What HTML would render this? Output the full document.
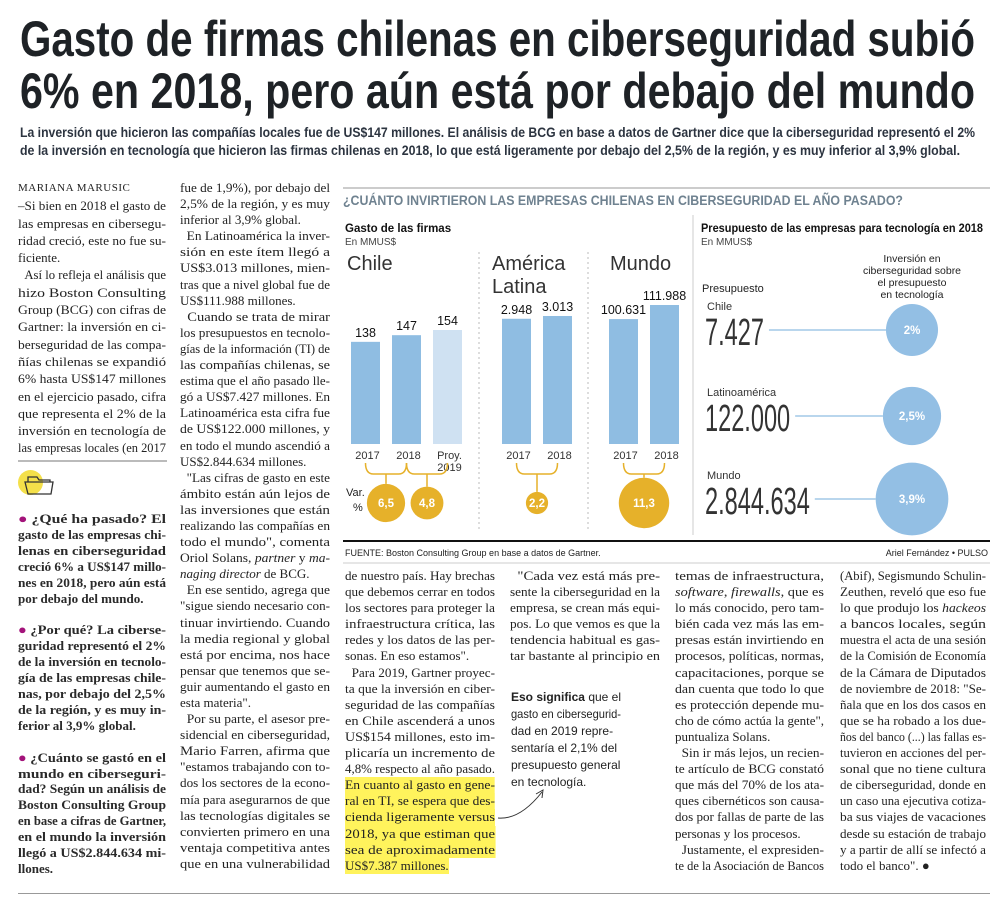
<!DOCTYPE html>
<html><head><meta charset="utf-8">
<style>
*{margin:0;padding:0;box-sizing:border-box}
body{width:1000px;height:915px;background:#fff;position:relative;overflow:hidden;font-family:"Liberation Serif",serif;color:#222}
.col{position:absolute;font-size:13px;line-height:16.1px}
.col i{display:block;width:max-content;white-space:nowrap;font-style:normal;transform-origin:0 50%}
.col em{font-style:italic}
.qa{font-weight:bold;color:#2a2a2a}
.dot{color:#a3137a}
.hl{background:#fff35c}
.box{font-family:"Liberation Sans",sans-serif;font-size:12px;line-height:17px}
svg text{font-family:"Liberation Sans",sans-serif}
</style></head><body>
<svg style="position:absolute;left:0;top:0" width="1000" height="170">
<text x="20" y="56" font-size="50" font-weight="bold" fill="#1e2226" textLength="955" lengthAdjust="spacingAndGlyphs">Gasto de firmas chilenas en ciberseguridad subió</text>
<text x="20" y="108" font-size="50" font-weight="bold" fill="#1e2226" textLength="955" lengthAdjust="spacingAndGlyphs">6% en 2018, pero aún está por debajo del mundo</text>
<text x="20" y="137" font-size="14" font-weight="bold" fill="#2c3440" textLength="955" lengthAdjust="spacingAndGlyphs">La inversión que hicieron las compañías locales fue de US$147 millones. El análisis de BCG en base a datos de Gartner dice que la ciberseguridad representó el 2%</text>
<text x="20" y="155" font-size="14" font-weight="bold" fill="#2c3440" textLength="940" lengthAdjust="spacingAndGlyphs">de la inversión en tecnología que hicieron las firmas chilenas en 2018, lo que está ligeramente por debajo del 2,5% de la región, y es muy inferior al 3,9% global.</text>
</svg>

<div class="col" data-w="148" style="left:18px;top:180px;line-height:17.3px">
<i style="font-size:11px;letter-spacing:.5px" class="e">MARIANA MARUSIC</i>
<i>–Si bien en 2018 el gasto de</i>
<i>las empresas en cibersegu-</i>
<i>ridad creció, este no fue su-</i>
<i class="e">ficiente.</i>
<i>&nbsp;&nbsp;Así lo refleja el análisis que</i>
<i>hizo Boston Consulting</i>
<i>Group (BCG) con cifras de</i>
<i>Gartner: la inversión en ci-</i>
<i>berseguridad de las compa-</i>
<i>ñías chilenas se expandió</i>
<i>6% hasta US$147 millones</i>
<i>en el ejercicio pasado, cifra</i>
<i>que representa el 2% de la</i>
<i>inversión en tecnología de</i>
<i>las empresas locales (en 2017</i>
</div>
<div style="position:absolute;left:18px;top:460px;width:149px;height:2px;background:#bbb"></div>
<div style="position:absolute;left:18px;top:470px;width:25px;height:25px;border-radius:50%;background:#f4e04a"></div>
<svg style="position:absolute;left:22px;top:472px" width="34" height="26"><path d="M3 10 L6 22 L29 22 L31 10 Z M6 10 L6 5 L15 5 L17 8 L28 8 L28 10" fill="none" stroke="#333" stroke-width="1.3"/></svg>

<div class="col qa" data-w="148" style="left:18px;top:511px;line-height:15.9px">
<i><span class="dot">●</span> ¿Qué ha pasado? El</i>
<i>gasto de las empresas chi-</i>
<i>lenas en ciberseguridad</i>
<i>creció 6% a US$147 millo-</i>
<i>nes en 2018, pero aún está</i>
<i class="e">por debajo del mundo.</i>
<i class="e">&nbsp;</i>
<i><span class="dot">●</span> ¿Por qué? La ciberse-</i>
<i>guridad representó el 2%</i>
<i>de la inversión en tecnolo-</i>
<i>gía de las empresas chile-</i>
<i>nas, por debajo del 2,5%</i>
<i>de la región, y es muy in-</i>
<i class="e">ferior al 3,9% global.</i>
<i class="e">&nbsp;</i>
<i><span class="dot">●</span> ¿Cuánto se gastó en el</i>
<i>mundo en ciberseguri-</i>
<i>dad? Según un análisis de</i>
<i>Boston Consulting Group</i>
<i>en base a cifras de Gartner,</i>
<i>en el mundo la inversión</i>
<i>llegó a US$2.844.634 mi-</i>
<i class="e">llones.</i>
</div>

<div class="col" data-w="150" style="left:180px;top:180px">
<i>fue de 1,9%), por debajo del</i>
<i>2,5% de la región, y es muy</i>
<i class="e">inferior al 3,9% global.</i>
<i>&nbsp;&nbsp;En Latinoamérica la inver-</i>
<i>sión en este ítem llegó a</i>
<i>US$3.013 millones, mien-</i>
<i>tras que a nivel global fue de</i>
<i class="e">US$111.988 millones.</i>
<i>&nbsp;&nbsp;Cuando se trata de mirar</i>
<i>los presupuestos en tecnolo-</i>
<i>gías de la información (TI) de</i>
<i>las compañías chilenas, se</i>
<i>estima que el año pasado lle-</i>
<i>gó a US$7.427 millones. En</i>
<i>Latinoamérica esta cifra fue</i>
<i>de US$122.000 millones, y</i>
<i>en todo el mundo ascendió a</i>
<i class="e">US$2.844.634 millones.</i>
<i>&nbsp;&nbsp;"Las cifras de gasto en este</i>
<i>ámbito están aún lejos de</i>
<i>las inversiones que están</i>
<i>realizando las compañías en</i>
<i>todo el mundo", comenta</i>
<i>Oriol Solans, <em>partner</em> y <em>ma-</em></i>
<i class="e"><em>naging director</em> de BCG.</i>
<i>&nbsp;&nbsp;En ese sentido, agrega que</i>
<i>"sigue siendo necesario con-</i>
<i>tinuar invirtiendo. Cuando</i>
<i>la media regional y global</i>
<i>está por encima, nos hace</i>
<i>pensar que tenemos que se-</i>
<i>guir aumentando el gasto en</i>
<i class="e">esta materia".</i>
<i>&nbsp;&nbsp;Por su parte, el asesor pre-</i>
<i>sidencial en ciberseguridad,</i>
<i>Mario Farren, afirma que</i>
<i>"estamos trabajando con to-</i>
<i>dos los sectores de la econo-</i>
<i>mía para asegurarnos de que</i>
<i>las tecnologías digitales se</i>
<i>convierten primero en una</i>
<i>ventaja competitiva antes</i>
<i>que en una vulnerabilidad</i>
</div>

<div class="col" data-w="150" style="left:345px;top:568px">
<i>de nuestro país. Hay brechas</i>
<i>que debemos cerrar en todos</i>
<i>los sectores para proteger la</i>
<i>infraestructura crítica, las</i>
<i>redes y los datos de las per-</i>
<i class="e">sonas. En eso estamos".</i>
<i>&nbsp;&nbsp;Para 2019, Gartner proyec-</i>
<i>ta que la inversión en ciber-</i>
<i>seguridad de las compañías</i>
<i>en Chile ascenderá a unos</i>
<i>US$154 millones, esto im-</i>
<i>plicaría un incremento de</i>
<i class="e">4,8% respecto al año pasado.</i>
<i class="hl">En cuanto al gasto en gene-</i>
<i class="hl">ral en TI, se espera que des-</i>
<i class="hl">cienda ligeramente versus</i>
<i class="hl">2018, ya que estiman que</i>
<i class="hl">sea de aproximadamente</i>
<i class="hl e">US$7.387 millones.</i>
</div>

<div class="col" data-w="150" style="left:510px;top:568px">
<i>&nbsp;&nbsp;"Cada vez está más pre-</i>
<i>sente la ciberseguridad en la</i>
<i>empresa, se crean más equi-</i>
<i>pos. Lo que vemos es que la</i>
<i>tendencia habitual es gas-</i>
<i>tar bastante al principio en</i>
</div>
<div class="col box" data-w="110" style="left:511px;top:689px">
<i class="e"><b>Eso significa</b> que el</i>
<i class="e">gasto en cibersegurid-</i>
<i class="e">dad en 2019 repre-</i>
<i class="e">sentaría el 2,1% del</i>
<i class="e">presupuesto general</i>
<i class="e">en tecnología.</i>
</div>
<svg style="position:absolute;left:490px;top:780px" width="70" height="50"><path d="M8 38 Q30 40 52 12" fill="none" stroke="#333" stroke-width="1"/><path d="M46 14 L53 10 L52 18" fill="none" stroke="#333" stroke-width="1"/></svg>

<div class="col" data-w="149" style="left:675px;top:568px">
<i>temas de infraestructura,</i>
<i><em>software</em>, <em>firewalls</em>, que es</i>
<i>lo más conocido, pero tam-</i>
<i>bién cada vez más las em-</i>
<i>presas están invirtiendo en</i>
<i>procesos, políticas, normas,</i>
<i>capacitaciones, porque se</i>
<i>dan cuenta que todo lo que</i>
<i>es protección depende mu-</i>
<i>cho de cómo actúa la gente",</i>
<i class="e">puntualiza Solans.</i>
<i>&nbsp;&nbsp;Sin ir más lejos, un recien-</i>
<i>te artículo de BCG constató</i>
<i>que más del 70% de los ata-</i>
<i>ques cibernéticos son causa-</i>
<i>dos por fallas de parte de las</i>
<i class="e">personas y los procesos.</i>
<i>&nbsp;&nbsp;Justamente, el expresiden-</i>
<i>te de la Asociación de Bancos</i>
</div>

<div class="col" data-w="146" style="left:840px;top:568px">
<i>(Abif), Segismundo Schulin-</i>
<i>Zeuthen, reveló que eso fue</i>
<i>lo que produjo los <em>hackeos</em></i>
<i>a bancos locales, según</i>
<i>muestra el acta de una sesión</i>
<i>de la Comisión de Economía</i>
<i>de la Cámara de Diputados</i>
<i>de noviembre de 2018: "Se-</i>
<i>ñala que en los dos casos en</i>
<i>que se ha robado a los due-</i>
<i>ños del banco (...) las fallas es-</i>
<i>tuvieron en acciones del per-</i>
<i>sonal que no tiene cultura</i>
<i>de ciberseguridad, donde en</i>
<i>un caso una ejecutiva cotiza-</i>
<i>ba sus viajes de vacaciones</i>
<i>desde su estación de trabajo</i>
<i>y a partir de allí se infectó a</i>
<i class="e">todo el banco". ●</i>
</div>
<div style="position:absolute;left:18px;top:893px;width:972px;height:1px;background:#999"></div>

<svg id="chart" style="position:absolute;left:0;top:0" width="1000" height="570"></svg>

<script>
// Gasto en ciberseguridad (MMUS$)
const chileYears = ['2017', '2018', 'Proy.|2019'];
const chileValues = [138, 147, 154];
const chileLabels = ['138', '147', '154'];
const alYears = ['2017', '2018'];
const alValues = [2948, 3013];
const alLabels = ['2.948', '3.013'];
const mundoYears = ['2017', '2018'];
const mundoValues = [100631, 111988];
const mundoLabels = ['100.631', '111.988'];
// Variación %
const chileVar = [6.5, 4.8];
const chileVarLabels = ['6,5', '4,8'];
const alVar = [2.2];
const alVarLabels = ['2,2'];
const mundoVar = [11.3];
const mundoVarLabels = ['11,3'];
// Presupuesto en tecnología 2018
const budgetRegions = ['Chile', 'Latinoamérica', 'Mundo'];
const budgetLabels = ['7.427', '122.000', '2.844.634'];
const budgetShare = [2, 2.5, 3.9];
const budgetShareLabels = ['2%', '2,5%', '3,9%'];

const NS = 'http://www.w3.org/2000/svg';
const svg = document.getElementById('chart');
function mk(tag, attrs, txt) {
  const e = document.createElementNS(NS, tag);
  for (const k in attrs) e.setAttribute(k, attrs[k]);
  if (txt !== undefined) e.textContent = txt;
  svg.appendChild(e);
  return e;
}
const BAR = '#8fbde2', BAR_L = '#cfe1f2', GOLD = '#e6b12a', CIRC = '#93bfe4';
const BASE = 444, BW = 29, STEP = 41, CY = 503;

let e;
e = mk('line', {x1: 343, y1: 188, x2: 990, y2: 188, stroke: '#999', 'stroke-width': 1});


e = mk('text', {x: 343, y: 205, 'font-size': 13.5, 'font-weight': 'bold', fill: '#6f8290', textLength: 560, lengthAdjust: 'spacingAndGlyphs'}, '¿CUÁNTO INVIRTIERON LAS EMPRESAS CHILENAS EN CIBERSEGURIDAD EL AÑO PASADO?');


e = mk('text', {x: 345, y: 232, 'font-size': 11.5, 'font-weight': 'bold', fill: '#111'}, 'Gasto de las firmas');


e = mk('text', {x: 345, y: 245, 'font-size': 10, fill: '#444'}, 'En MMUS$');


[479, 588].forEach(x => {
  e = mk('line', {x1: x, y1: 252, x2: x, y2: 530, stroke: '#bbb', 'stroke-dasharray': '2,3'});
  
  
});
e = mk('text', {x: 346, y: 496, 'font-size': 11, fill: '#222'}, 'Var.');


e = mk('text', {x: 353, y: 511, 'font-size': 11, fill: '#222'}, '%');



function panel(name, titles, tx, x0, years, values, labels, maxH, vars, varLabels) {
  titles.forEach((t, i) => {
    e = mk('text', {x: tx, y: 270 + i * 23, 'font-size': 20, fill: '#333'}, t);
    
    
  });
  const vmax = Math.max(...values);
  const k = maxH / vmax;
  const yOf = v => BASE - v * k;
  values.forEach((v, i) => {
    const x = x0 + i * STEP;
    const light = years[i].indexOf('Proy') === 0;
    e = mk('rect', {x: x, y: yOf(v), width: BW, height: BASE - yOf(v), fill: light ? BAR_L : BAR});
    
    
    e = mk('text', {x: x + BW / 2, y: yOf(v) - 5, 'font-size': 12.5, 'text-anchor': 'middle', fill: '#111'}, labels[i]);
    
    
    years[i].split('|').forEach((yl, j) => {
      e = mk('text', {x: x + BW / 2 + 2, y: 459 + j * 12, 'font-size': 11, 'text-anchor': 'middle', fill: '#333'}, yl);
      
      
    });
  });
  vars.forEach((v, i) => {
    const xa = x0 + i * STEP + BW / 2, xb = xa + STEP, xm = (xa + xb) / 2;
    const r = 7.5 * Math.sqrt(v);
    e = mk('path', {d: `M${xa} 463 Q${xa} 474 ${xa + 8} 474 L${xb - 8} 474 Q${xb} 474 ${xb} 463 M${xm} 474 L${xm} ${CY - r}`, fill: 'none', stroke: GOLD, 'stroke-width': 1.5});
    
    
    e = mk('circle', {cx: xm, cy: CY, r: r, fill: GOLD});
    
    
    e = mk('text', {x: xm, y: CY + 4, 'font-size': 11.5, 'font-weight': 'bold', 'text-anchor': 'middle', fill: '#fff'}, varLabels[i]);
    
    
  });
}
panel('chile', ['Chile'], 347, 351, chileYears, chileValues, chileLabels, 114, chileVar, chileVarLabels);
panel('america-latina', ['América', 'Latina'], 492, 502, alYears, alValues, alLabels, 128, alVar, alVarLabels);
panel('mundo', ['Mundo'], 610, 609, mundoYears, mundoValues, mundoLabels, 139, mundoVar, mundoVarLabels);

e = mk('line', {x1: 693, y1: 215, x2: 693, y2: 535, stroke: '#ccc'});


e = mk('text', {x: 701, y: 232, 'font-size': 12, 'font-weight': 'bold', fill: '#111', textLength: 282, lengthAdjust: 'spacingAndGlyphs'}, 'Presupuesto de las empresas para tecnología en 2018');


e = mk('text', {x: 701, y: 245, 'font-size': 10, fill: '#444'}, 'En MMUS$');


['Inversión en', 'ciberseguridad sobre', 'el presupuesto', 'en tecnología'].forEach((t, i) => {
  e = mk('text', {x: 912, y: 262 + i * 12, 'font-size': 10.5, 'text-anchor': 'middle', fill: '#222'}, t);
  
  
});
e = mk('text', {x: 702, y: 292, 'font-size': 11, fill: '#222'}, 'Presupuesto');


const rowY = [330, 416, 499];
budgetRegions.forEach((reg, i) => {
  const cy = rowY[i];
  const r = 18.4 * Math.sqrt(budgetShare[i]);
  e = mk('text', {x: 707, y: cy - 20, 'font-size': 11, fill: '#333'}, reg);
  
  
  const t = mk('text', {x: 705, y: cy + 15, 'font-size': 38, fill: '#333', transform: `translate(705 0) scale(0.62 1) translate(-705 0)`}, budgetLabels[i]);
  
  
  const tw = t.getBBox().width * 0.62;
  e = mk('line', {x1: 705 + tw + 5, y1: cy, x2: 912 - r, y2: cy, stroke: '#8fbde2', 'stroke-width': 1.2});
  
  
  e = mk('circle', {cx: 912, cy: cy, r: r, fill: CIRC});
  
  
  e = mk('text', {x: 912, y: cy + 4, 'font-size': 11.5, 'font-weight': 'bold', 'text-anchor': 'middle', fill: '#fff'}, budgetShareLabels[i]);
  
  
});
e = mk('line', {x1: 343, y1: 541, x2: 990, y2: 541, stroke: '#111', 'stroke-width': 2});


e = mk('text', {x: 345, y: 556, 'font-size': 9, fill: '#222'}, 'FUENTE: Boston Consulting Group en base a datos de Gartner.');


e = mk('text', {x: 988, y: 556, 'font-size': 9, fill: '#222', 'text-anchor': 'end'}, 'Ariel Fernández • PULSO');


e = mk('line', {x1: 343, y1: 563, x2: 990, y2: 563, stroke: '#ccc', 'stroke-width': 1});



document.querySelectorAll('.col').forEach(col => {
  const W = +col.getAttribute('data-w');
  col.querySelectorAll('i').forEach(l => {
    const w = l.getBoundingClientRect().width;
    if (!w) return;
    if (!l.classList.contains('e') || w > W) l.style.transform = 'scaleX(' + (W / w) + ')';
  });
});
</script>
</body></html>
